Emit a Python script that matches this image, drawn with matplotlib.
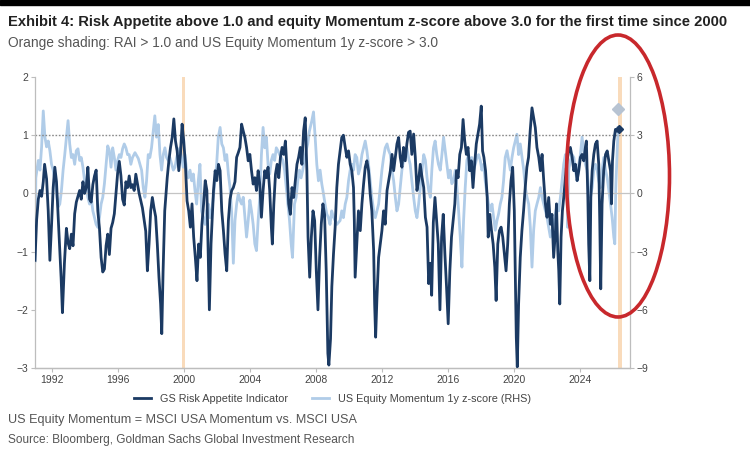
import matplotlib
matplotlib.use("Agg")
import matplotlib.pyplot as plt
from matplotlib.patches import Ellipse, Rectangle

plt.rcParams['font.family'] = ['Liberation Sans', 'DejaVu Sans']

# GS Risk Appetite Indicator (left axis)
rai_year = [
    1991.00, 1991.10, 1991.20, 1991.30, 1991.40, 1991.50, 1991.58, 1991.70, 1991.80, 1991.90,
    1992.00, 1992.10, 1992.20, 1992.30, 1992.40, 1992.50, 1992.58, 1992.66, 1992.78, 1992.90,
    1993.00, 1993.10, 1993.20, 1993.30, 1993.40, 1993.50, 1993.60, 1993.70, 1993.80, 1993.90,
    1994.00, 1994.10, 1994.20, 1994.30, 1994.40, 1994.50, 1994.60, 1994.70, 1994.80, 1994.90,
    1995.00, 1995.10, 1995.20, 1995.30, 1995.40, 1995.50, 1995.60, 1995.70, 1995.80, 1995.90,
    1996.00, 1996.10, 1996.20, 1996.30, 1996.40, 1996.50, 1996.60, 1996.70, 1996.80, 1996.90,
    1997.00, 1997.10, 1997.30, 1997.50, 1997.70, 1997.80, 1997.90, 1998.00, 1998.10, 1998.20,
    1998.30, 1998.40, 1998.50, 1998.60, 1998.67, 1998.75, 1998.85, 1999.00, 1999.10, 1999.20,
    1999.30, 1999.40, 1999.50, 1999.60, 1999.70, 1999.80, 1999.90, 2000.00, 2000.10, 2000.20,
    2000.30, 2000.40, 2000.50, 2000.60, 2000.70, 2000.80, 2000.90, 2001.00, 2001.10, 2001.20,
    2001.30, 2001.40, 2001.50, 2001.55, 2001.65, 2001.80, 2001.90, 2002.00, 2002.10, 2002.20,
    2002.30, 2002.40, 2002.50, 2002.60, 2002.70, 2002.80, 2002.90, 2003.00, 2003.10, 2003.20,
    2003.30, 2003.40, 2003.50, 2003.60, 2003.70, 2003.80, 2003.90, 2004.00, 2004.10, 2004.20,
    2004.30, 2004.40, 2004.50, 2004.60, 2004.70, 2004.80, 2004.90, 2005.00, 2005.10, 2005.20,
    2005.30, 2005.36, 2005.45, 2005.55, 2005.65, 2005.75, 2005.85, 2005.95, 2006.05, 2006.15,
    2006.25, 2006.35, 2006.45, 2006.55, 2006.65, 2006.75, 2006.85, 2006.95, 2007.05, 2007.15,
    2007.25, 2007.35, 2007.45, 2007.52, 2007.62, 2007.72, 2007.82, 2007.92, 2008.02, 2008.12,
    2008.22, 2008.32, 2008.42, 2008.52, 2008.62, 2008.72, 2008.78, 2008.88, 2008.96, 2009.06,
    2009.16, 2009.26, 2009.36, 2009.46, 2009.56, 2009.66, 2009.77, 2009.87, 2009.97, 2010.07,
    2010.17, 2010.27, 2010.32, 2010.37, 2010.47, 2010.57, 2010.68, 2010.78, 2010.88, 2010.98,
    2011.08, 2011.18, 2011.28, 2011.38, 2011.49, 2011.55, 2011.61, 2011.69, 2011.79, 2011.89,
    2011.99, 2012.09, 2012.19, 2012.30, 2012.40, 2012.50, 2012.60, 2012.70, 2012.80, 2012.90,
    2013.00, 2013.10, 2013.20, 2013.30, 2013.40, 2013.50, 2013.60, 2013.70, 2013.80, 2013.91,
    2014.01, 2014.11, 2014.21, 2014.31, 2014.42, 2014.52, 2014.62, 2014.72, 2014.82, 2014.92,
    2015.00, 2015.10, 2015.20, 2015.30, 2015.40, 2015.50, 2015.60, 2015.70, 2015.80, 2015.90,
    2016.00, 2016.10, 2016.20, 2016.30, 2016.40, 2016.50, 2016.60, 2016.70, 2016.80, 2016.90,
    2017.00, 2017.10, 2017.20, 2017.30, 2017.40, 2017.50, 2017.60, 2017.70, 2017.80, 2017.90,
    2018.00, 2018.08, 2018.16, 2018.26, 2018.36, 2018.42, 2018.52, 2018.62, 2018.72, 2018.82,
    2018.90, 2019.00, 2019.10, 2019.20, 2019.30, 2019.40, 2019.50, 2019.60, 2019.70, 2019.80,
    2019.90, 2020.00, 2020.06, 2020.12, 2020.18, 2020.26, 2020.36, 2020.46, 2020.56, 2020.66,
    2020.76, 2020.86, 2020.96, 2021.07, 2021.17, 2021.27, 2021.37, 2021.48, 2021.58, 2021.68,
    2021.78, 2021.88, 2021.98, 2022.08, 2022.18, 2022.28, 2022.38, 2022.49, 2022.55, 2022.63,
    2022.69, 2022.75, 2022.83, 2022.91, 2022.99, 2023.09, 2023.19, 2023.29, 2023.39, 2023.50,
    2023.60, 2023.70, 2023.80, 2023.90, 2024.00, 2024.10, 2024.20, 2024.30, 2024.36, 2024.45,
    2024.50, 2024.57, 2024.63, 2024.71, 2024.81, 2024.91, 2025.01, 2025.11, 2025.17, 2025.23,
    2025.31, 2025.41, 2025.52, 2025.62, 2025.72, 2025.82, 2025.88, 2025.94, 2026.02, 2026.12,
    2026.22, 2026.30,
]
rai_value = [
    -1.15, -0.45, -0.10, 0.05, -0.05, 0.20, 0.50, 0.25, -0.30, -1.15,
    -0.55, 0.10, 0.45, 0.20, -0.40, -1.00, -1.45, -2.05, -1.20, -0.60,
    -0.85, -0.95, -0.70, -0.90, -0.35, -0.15, -0.05, 0.05, -0.10, 0.20,
    0.00, 0.10, 0.45, -0.10, -0.15, 0.15, 0.30, 0.40, -0.30, -0.60,
    -1.10, -1.35, -1.30, -0.90, -0.70, -1.05, -0.60, -0.50, -0.35, 0.00,
    0.35, 0.55, 0.30, -0.10, -0.20, 0.20, 0.10, 0.30, 0.10, 0.15,
    0.05, 0.33, 0.00, -0.25, -0.65, -1.33, -0.87, -0.30, -0.07, -0.25,
    -0.40, -0.87, -1.44, -1.90, -2.41, -1.33, -0.30, 0.27, 0.56, 0.79,
    0.96, 1.28, 0.90, 0.73, 0.39, 0.67, 1.19, 0.90, 0.50, -0.13,
    -0.30, -0.58, -0.18, -0.75, -1.10, -1.50, -0.87, -1.10, -0.53, -0.18,
    0.22, 0.05, -1.33, -2.00, -0.87, 0.05, 0.39, 0.22, 0.50, 0.39,
    -0.30, -0.64, -1.04, -1.33, -0.47, -0.10, 0.05, 0.10, 0.20, 0.62,
    0.70, 0.79, 1.19, 1.07, 0.96, 0.79, 0.56, 0.67, 0.39, 0.16,
    0.27, 0.05, 0.39, 0.16, -0.41, 0.05, 0.39, 0.27, 0.45, 0.05,
    -0.58, -0.87, -0.18, 0.33, 0.50, 0.27, 0.62, 0.79, 0.67, 0.90,
    0.39, -0.18, -0.36, 0.10, -0.07, 0.22, 0.50, 0.62, 0.79, 0.50,
    1.07, 1.30, 0.39, -0.75, -1.44, -0.75, -0.30, -0.47, -1.33, -2.00,
    -1.10, -0.53, -0.18, -0.36, -1.33, -2.75, -2.95, -2.50, -1.60, -1.04,
    -0.58, 0.10, 0.50, 0.73, 0.96, 1.00, 0.79, 0.62, 0.73, 0.50,
    0.39, 0.10, -0.47, -1.44, -0.87, -0.30, -0.64, -0.18, 0.16, 0.45,
    0.56, 0.39, -0.01, -0.30, -0.98, -1.90, -2.47, -1.79, -1.10, -0.87,
    -0.64, -0.30, -0.53, 0.05, 0.22, 0.39, 0.67, 0.39, 0.62, 0.85,
    0.96, 0.62, 0.45, 0.79, 0.56, 0.85, 1.05, 1.07, 0.67, 1.02,
    0.62, 0.05, 0.22, 0.50, 0.27, 0.10, -0.41, -0.58, -1.55, -1.20,
    -1.75, -0.50, -0.07, -0.47, -0.87, -2.00, -0.75, -0.36, -1.04, -1.61,
    -2.24, -1.33, -0.75, -0.47, -0.18, 0.39, 0.27, 0.67, 0.79, 1.27,
    0.90, 0.67, 0.79, 0.39, 0.56, 0.10, 0.50, 0.85, 1.02, 1.19,
    1.50, 0.73, 0.62, 0.39, -0.07, -0.75, -0.36, -0.64, -0.87, -1.27,
    -1.84, -0.87, -0.64, -0.58, -0.75, -1.04, -1.33, -0.87, -0.18, 0.22,
    0.45, -0.30, -1.33, -2.47, -2.98, -1.90, -1.10, -0.64, -0.30, 0.10,
    0.45, 0.62, 1.07, 1.47, 1.30, 1.13, 0.79, 0.62, 0.39, 0.67,
    0.22, -0.18, -0.41, -0.07, -0.53, -0.36, -1.10, -0.64, -0.18, -0.98,
    -1.33, -1.90, -0.75, -0.30, -0.07, 0.27, 0.56, 0.73, 0.79, 0.62,
    0.39, 0.50, 0.22, 0.39, 0.62, 0.67, 0.56, 0.79, 0.90, -0.07,
    -0.87, -1.50, -0.07, 0.39, 0.67, 0.85, 0.90, 0.50, -0.47, -1.64,
    -0.18, 0.39, 0.67, 0.73, 0.56, 0.39, -0.18, 0.56, 0.90, 1.10,
    1.07, 1.10,
]

# US Equity Momentum 1y z-score (right axis)
mom_year = [
    1991.00, 1991.05, 1991.20, 1991.30, 1991.40, 1991.50, 1991.60, 1991.70, 1991.80, 1991.90,
    1992.00, 1992.10, 1992.20, 1992.30, 1992.40, 1992.50, 1992.60, 1992.70, 1992.80, 1992.90,
    1993.00, 1993.10, 1993.20, 1993.30, 1993.40, 1993.50, 1993.60, 1993.70, 1993.80, 1993.90,
    1994.00, 1994.10, 1994.20, 1994.30, 1994.40, 1994.50, 1994.60, 1994.70, 1994.80, 1994.90,
    1995.00, 1995.10, 1995.20, 1995.30, 1995.40, 1995.50, 1995.60, 1995.70, 1995.80, 1995.90,
    1996.00, 1996.10, 1996.20, 1996.30, 1996.40, 1996.50, 1996.60, 1996.70, 1996.80, 1996.90,
    1997.05, 1997.25, 1997.45, 1997.55, 1997.65, 1997.75, 1997.85, 1997.95, 1998.05, 1998.15,
    1998.25, 1998.35, 1998.46, 1998.56, 1998.66, 1998.76, 1998.86, 1998.96, 1999.06, 1999.16,
    1999.27, 1999.37, 1999.47, 1999.57, 1999.67, 1999.77, 1999.87, 1999.97, 2000.07, 2000.17,
    2000.28, 2000.38, 2000.48, 2000.58, 2000.68, 2000.78, 2000.88, 2000.98, 2001.08, 2001.18,
    2001.29, 2001.39, 2001.49, 2001.59, 2001.69, 2001.79, 2001.89, 2001.99, 2002.09, 2002.20,
    2002.30, 2002.40, 2002.50, 2002.60, 2002.70, 2002.80, 2002.90, 2003.00, 2003.10, 2003.20,
    2003.30, 2003.40, 2003.50, 2003.60, 2003.70, 2003.80, 2003.90, 2004.00, 2004.10, 2004.20,
    2004.30, 2004.40, 2004.50, 2004.60, 2004.70, 2004.80, 2004.90, 2005.00, 2005.10, 2005.20,
    2005.30, 2005.40, 2005.50, 2005.60, 2005.70, 2005.80, 2005.90, 2006.00, 2006.10, 2006.20,
    2006.30, 2006.40, 2006.50, 2006.58, 2006.70, 2006.80, 2006.90, 2007.00, 2007.10, 2007.20,
    2007.30, 2007.40, 2007.50, 2007.60, 2007.75, 2007.85, 2007.95, 2008.05, 2008.15, 2008.25,
    2008.35, 2008.45, 2008.55, 2008.65, 2008.75, 2008.85, 2008.95, 2009.05, 2009.26, 2009.46,
    2009.56, 2009.66, 2009.77, 2009.87, 2009.97, 2010.07, 2010.17, 2010.27, 2010.37, 2010.47,
    2010.57, 2010.68, 2010.78, 2010.88, 2010.98, 2011.08, 2011.18, 2011.28, 2011.38, 2011.49,
    2011.59, 2011.69, 2011.79, 2011.89, 2011.99, 2012.09, 2012.19, 2012.30, 2012.40, 2012.50,
    2012.60, 2012.70, 2012.80, 2012.90, 2013.00, 2013.10, 2013.20, 2013.30, 2013.40, 2013.50,
    2013.60, 2013.70, 2013.80, 2013.91, 2014.01, 2014.11, 2014.21, 2014.31, 2014.42, 2014.52,
    2014.62, 2014.72, 2014.82, 2014.92, 2015.01, 2015.11, 2015.21, 2015.31, 2015.41, 2015.52,
    2015.62, 2015.72, 2015.82, 2015.92, 2016.02, 2016.12, 2016.22, 2016.32, 2016.43, 2016.53,
    2016.63, 2016.73, 2016.83, 2016.93, 2017.03, 2017.13, 2017.23, 2017.33, 2017.43, 2017.53,
    2017.64, 2017.74, 2017.84, 2017.94, 2018.04, 2018.14, 2018.24, 2018.34, 2018.44, 2018.55,
    2018.65, 2018.75, 2018.85, 2018.95, 2019.05, 2019.15, 2019.25, 2019.35, 2019.45, 2019.56,
    2019.66, 2019.76, 2019.86, 2019.96, 2020.06, 2020.16, 2020.26, 2020.36, 2020.47, 2020.57,
    2020.67, 2020.77, 2020.87, 2020.97, 2021.07, 2021.17, 2021.27, 2021.37, 2021.48, 2021.58,
    2021.68, 2021.78, 2021.88, 2021.98, 2022.08, 2022.18, 2022.28, 2022.38, 2022.49, 2022.59,
    2022.69, 2022.79, 2022.89, 2022.99, 2023.09, 2023.19, 2023.23, 2023.29, 2023.39, 2023.50,
    2023.60, 2023.70, 2023.80, 2023.90, 2024.00, 2024.10, 2024.20, 2024.30, 2024.40, 2024.50,
    2024.60, 2024.71, 2024.81, 2024.91, 2025.01, 2025.11, 2025.21, 2025.31, 2025.41, 2025.52,
    2025.62, 2025.72, 2025.82, 2025.92, 2026.02, 2026.08, 2026.14, 2026.22, 2026.28,
]
mom_value = [
    -3.50, 0.80, 1.70, 1.20, 2.40, 4.25, 2.90, 2.40, 2.70, 2.20,
    1.50, 1.20, 0.65, 0.00, -0.70, -0.55, 0.15, 1.20, 2.00, 2.90,
    3.75, 2.55, 1.85, 2.00, 1.50, 2.20, 2.30, 1.70, 1.85, 1.35,
    0.65, 0.30, -0.20, -0.55, -0.20, -0.90, -1.25, -1.60, -1.75, -1.25,
    -0.55, -0.20, 0.50, 1.50, 2.45, 2.20, 1.35, 2.35, 1.85, 1.20,
    1.70, 2.00, 1.85, 2.30, 2.55, 2.35, 2.00, 2.00, 1.50, 1.85,
    2.10, 1.80, 1.20, 0.30, -0.20, 0.65, 2.00, 1.85, 2.35, 3.20,
    4.00, 2.90, 3.55, 2.00, 1.20, 2.00, 2.35, 1.85, 1.70, 1.85,
    1.50, 1.20, 1.35, 1.85, 2.20, 2.35, 1.85, 1.35, 2.00, 1.20,
    0.80, 1.20, 0.65, 1.00, 0.15, -0.55, 0.65, 1.50, -0.90, -1.25,
    -1.60, -0.90, -0.55, -1.25, -0.90, -0.20, 0.65, 1.50, 2.90, 3.40,
    2.55, 2.35, 1.70, 2.00, 1.00, 0.30, -1.00, -3.60, -1.40, -0.55,
    0.00, -0.35, -0.55, -0.20, -1.25, -2.25, -1.40, -0.35, -0.90, -1.60,
    -2.60, -2.95, -1.40, -0.20, 2.00, 3.40, 2.35, 2.90, 1.50, 1.00,
    1.70, 2.00, 1.70, 2.35, 2.20, 2.00, 1.85, 1.70, 1.20, 0.30,
    -0.55, -1.40, -2.60, -3.30, -0.55, -0.20, 0.65, 1.20, 0.80, 1.20,
    1.70, 2.20, 2.55, 3.20, 3.75, 4.20, 2.90, 1.50, 0.65, 1.20,
    0.50, 0.00, -0.55, -1.05, -1.25, -1.60, -0.90, -1.20, -1.60, -1.40,
    -0.90, -1.25, -0.55, -0.20, 0.65, 1.20, 1.50, 1.20, 2.00, 1.85,
    1.00, 1.35, 2.00, 2.35, 2.70, 2.20, 1.50, 0.65, -0.20, -0.90,
    -1.25, -0.90, -0.55, 0.30, 1.20, 1.85, 2.35, 2.55, 2.20, 2.00,
    1.20, 0.65, -0.20, -0.90, -0.55, 0.30, 1.20, 1.70, 2.00, 2.35,
    1.85, 1.50, 0.65, -0.20, -0.90, -1.25, -0.55, 0.30, 1.20, 2.00,
    1.70, 0.80, 0.15, -0.20, 1.20, 2.35, 2.70, 2.00, 1.50, 1.20,
    2.00, 2.90, 2.20, 1.50, 0.80, 1.20, 0.50, 0.65, 1.20, 0.30,
    -0.90, -2.25, -3.80, -1.40, 0.30, 1.70, 2.00, 1.50, 1.85, 1.20,
    1.50, 1.85, 2.00, 1.70, 1.20, 1.50, 0.65, 0.00, -0.55, -0.90,
    -0.55, -1.25, -1.90, -1.40, -1.05, -0.55, -0.20, 0.65, 1.85, 2.20,
    1.70, 1.20, 1.85, 2.35, 2.70, 3.05, 2.00, 2.55, 1.85, 1.20,
    0.30, -0.20, -0.55, -1.75, -3.80, -1.90, -0.90, -0.55, -0.20, 0.30,
    -0.20, -0.55, -0.90, -1.25, -1.75, -2.25, -1.90, -1.55, -1.05, -0.55,
    -0.90, -0.20, 0.65, 1.50, 2.00, 0.30, -1.75, 1.20, 1.70, 2.00,
    1.85, 1.20, 0.65, 1.50, 2.00, 2.90, 2.20, 1.50, 1.20, 0.30,
    -0.20, 0.30, 1.20, 1.50, 1.20, 0.65, 0.30, 1.20, 1.85, 1.20,
    0.80, 0.15, -0.55, -1.25, -2.25, -2.60, 0.30, 2.00, 3.40,
]

# latest readings shown as diamonds
rai_latest = (2026.32, 1.10)
mom_latest = (2026.30, 4.35)

# periods with RAI > 1.0 and momentum z-score > 3.0
shade_periods = [(1999.88, 2000.10), (2026.25, 2026.50)]

year_ticks = [1992, 1996, 2000, 2004, 2008, 2012, 2016, 2020, 2024]

dark = '#1b3a63'
light = '#b0cce8'
grey_txt = '#444444'

fig = plt.figure(figsize=(7.5, 4.55), dpi=100)
ax = fig.add_axes([35 / 750, 87 / 455, 595 / 750, 291 / 455])
ax2 = ax.twinx()

for a, b in shade_periods:
    ax2.axvspan(a, b, color='#f8cfa4', alpha=0.75, lw=0, zorder=0)

ax.axhline(0, color='#c4c4c4', lw=0.9, zorder=1)
ax.axhline(1, color='#8a8a8a', lw=1.0, ls=(0, (1.2, 1.2)), zorder=1)

ax2.plot(mom_year, mom_value, color=light, lw=2.0, zorder=2,
         label='US Equity Momentum 1y z-score (RHS)')
ax2.plot(*mom_latest, marker='D', ms=6.5, color='#b7c3d2', zorder=3)
ax.plot(rai_year, rai_value, color=dark, lw=2.0, zorder=3,
        label='GS Risk Appetite Indicator')
ax.plot(*rai_latest, marker='D', ms=4, color=dark, zorder=4)

# dark series above the twin axis
ax.set_zorder(ax2.get_zorder() + 1)
ax.patch.set_visible(False)

ax.set_xlim(1991.0, 2027.0)
ax.set_ylim(-3, 2)
ax2.set_ylim(-9, 6)
ax.set_xticks(year_ticks)
ax.set_xticklabels([str(y) for y in year_ticks])
ax.set_yticks([-3, -2, -1, 0, 1, 2])
ax2.set_yticks([-9, -6, -3, 0, 3, 6])

for a in (ax, ax2):
    for s in a.spines.values():
        s.set_color('#bdbdbd')
        s.set_linewidth(0.9)
    a.spines['top'].set_visible(False)
    a.tick_params(colors='#bdbdbd', labelcolor=grey_txt, labelsize=7.5,
                  length=3, width=0.8, pad=2)
ax.spines['right'].set_visible(False)
ax2.spines['left'].set_visible(False)

h1, l1 = ax.get_legend_handles_labels()
h2, l2 = ax2.get_legend_handles_labels()
ax.legend(h1 + h2, l1 + l2, loc='upper center', bbox_to_anchor=(0.5, -0.055),
          ncol=2, frameon=False, fontsize=7.8, handlelength=1.6,
          columnspacing=2.2, labelcolor=grey_txt)

fig.text(8 / 750, 1 - 22 / 455,
         'Exhibit 4: Risk Appetite above 1.0 and equity Momentum z-score above 3.0 for the first time since 2000',
         weight='bold', fontsize=10.6, color='#222222', va='center')
fig.text(8 / 750, 1 - 43 / 455,
         'Orange shading: RAI > 1.0 and US Equity Momentum 1y z-score > 3.0',
         fontsize=9.9, color='#555555', va='center')
fig.text(8 / 750, 1 - 420 / 455,
         'US Equity Momentum = MSCI USA Momentum vs. MSCI USA',
         fontsize=9.1, color='#555555', va='center')
fig.text(8 / 750, 1 - 440 / 455,
         'Source: Bloomberg, Goldman Sachs Global Investment Research',
         fontsize=8.6, color='#555555', va='center')

# black strip at the top of the screenshot
fig.patches.append(Rectangle((0, 1 - 5 / 455), 1, 5 / 455, color='black',
                             transform=fig.transFigure, zorder=10))

# red hand-drawn ellipse around the latest readings
fig.patches.append(Ellipse((618 / 750, 1 - 176 / 455), 103 / 750, 282 / 455,
                           fill=False, edgecolor='#c8282c', lw=2.6,
                           transform=fig.transFigure, zorder=10))

fig.savefig('out.png', dpi=100)
